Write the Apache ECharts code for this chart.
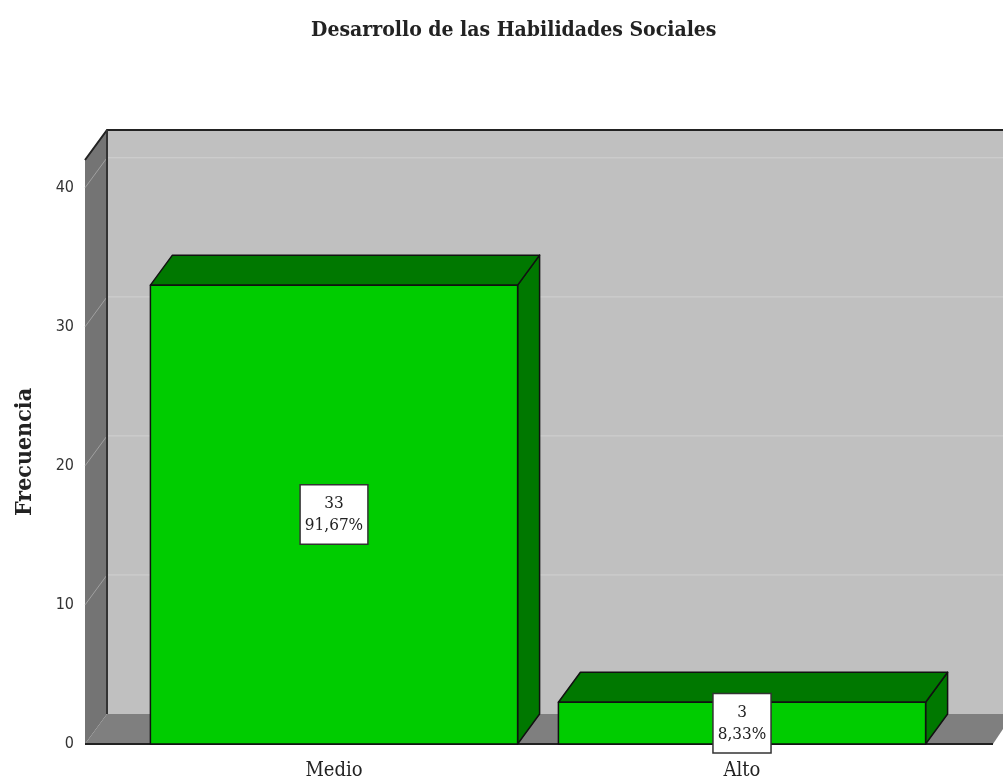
<!DOCTYPE html>
<html>
<head>
<meta charset="utf-8">
<script src="https://cdn.jsdelivr.net/npm/echarts@6/dist/echarts.min.js"></script>
<style>
  html, body { margin: 0; padding: 0; background: #fff; }
  #chart { width: 1003px; height: 784px; }
</style>
</head>
<body>
<div id="chart"></div>
<script>
// valores
const categories = ['Medio', 'Alto'];
const counts = [33, 3];
const percents = ['91,67%', '8,33%'];
const yTicks = [0, 10, 20, 30, 40];

// profundidad del efecto 3D
const DX = 22;
const DY = -30;

let myChart = echarts.init(document.getElementById('chart'));

function renderBackdrop(params, api) {
  const cs = params.coordSys;
  const W = api.getWidth();
  const y0 = api.coord([0, 0])[1];
  const yTop = cs.y;
  const lf = cs.x - 45;      // borde frontal izquierdo
  const lb = lf + DX;        // borde posterior izquierdo
  const children = [];
  // pared del fondo
  children.push({
    type: 'rect',
    shape: { x: lb, y: yTop + DY, width: W - lb, height: y0 - yTop },
    style: { fill: '#c0c0c0' }
  });
  // pared izquierda
  children.push({
    type: 'polygon',
    shape: { points: [[lf, yTop], [lb, yTop + DY], [lb, y0 + DY], [lf, y0]] },
    style: { fill: '#747474' }
  });
  // suelo
  children.push({
    type: 'polygon',
    shape: { points: [[lf, y0], [lb, y0 + DY], [W + 10, y0 + DY], [W - 10, y0]] },
    style: { fill: '#7f7f7f' }
  });
  // lineas de cuadricula
  yTicks.forEach(t => {
    if (t === 0) return;
    const py = api.coord([0, t])[1];
    children.push({
      type: 'line',
      shape: { x1: lb, y1: py + DY, x2: W, y2: py + DY },
      style: { stroke: '#d0d0d0', lineWidth: 1 }
    });
    children.push({
      type: 'line',
      shape: { x1: lf, y1: py, x2: lb, y2: py + DY },
      style: { stroke: '#a0a0a0', lineWidth: 1 }
    });
  });
  // bordes oscuros
  children.push({
    type: 'polyline',
    shape: { points: [[lf, yTop], [lb, yTop + DY], [W, yTop + DY]] },
    style: { stroke: '#222', lineWidth: 2, fill: null }
  });
  children.push({
    type: 'line',
    shape: { x1: lb, y1: yTop + DY, x2: lb, y2: y0 + DY },
    style: { stroke: '#333', lineWidth: 2 }
  });
  children.push({
    type: 'line',
    shape: { x1: lf, y1: y0, x2: W - 10, y2: y0 },
    style: { stroke: '#222', lineWidth: 2 }
  });
  return { type: 'group', children: children };
}

function renderBar(params, api) {
  const idx = api.value(0);
  const v = api.value(1);
  const base = api.coord([idx, 0]);
  const top = api.coord([idx, v]);
  const half = api.size([1, 0])[0] * 0.9 / 2;
  const l = base[0] - half, r = base[0] + half;
  const y0 = base[1], y1 = top[1];
  const edge = { stroke: '#111', lineWidth: 1.5, lineJoin: 'round' };
  return {
    type: 'group',
    children: [
      {
        type: 'polygon',
        shape: { points: [[r, y1], [r + DX, y1 + DY], [r + DX, y0 + DY], [r, y0]] },
        style: Object.assign({ fill: '#007800' }, edge)
      },
      {
        type: 'polygon',
        shape: { points: [[l, y1], [l + DX, y1 + DY], [r + DX, y1 + DY], [r, y1]] },
        style: Object.assign({ fill: '#007800' }, edge)
      },
      {
        type: 'rect',
        shape: { x: l, y: y1, width: r - l, height: y0 - y1 },
        style: Object.assign({ fill: '#00cc00' }, edge)
      },
      {
        type: 'text',
        x: base[0],
        y: (y0 + y1) / 2,
        style: {
          text: counts[params.dataIndex] + '\n' + percents[params.dataIndex],
          align: 'center',
          verticalAlign: 'middle',
          fontFamily: 'DejaVu Serif Condensed',
          fontSize: 17,
          lineHeight: 22,
          fill: '#222',
          backgroundColor: '#fff',
          borderColor: '#333',
          borderWidth: 1.5,
          padding: [7, 4, 7, 4]
        }
      }
    ]
  };
}

let option = {
  animation: false,
  title: {
    text: 'Desarrollo de las Habilidades Sociales',
    left: 306,
    top: 15,
    textStyle: {
      fontFamily: 'DejaVu Serif Condensed',
      fontWeight: 'bold',
      fontSize: 21,
      color: '#222'
    }
  },
  grid: {
    left: 130,
    width: 816,
    top: 160,
    bottom: 40,
    containLabel: false,
    outerBoundsMode: 'none'
  },
  xAxis: {
    type: 'category',
    data: categories,
    axisLine: { show: false },
    axisTick: { show: false },
    axisLabel: {
      margin: 17,
      fontFamily: 'DejaVu Serif Condensed',
      fontSize: 20,
      color: '#222'
    }
  },
  yAxis: {
    type: 'value',
    min: 0,
    max: 42,
    interval: 10,
    name: 'Frecuencia',
    nameLocation: 'middle',
    nameGap: 93,
    nameTextStyle: {
      fontFamily: 'DejaVu Serif Condensed',
      fontWeight: 'bold',
      fontSize: 23,
      color: '#222'
    },
    axisLine: { show: false },
    axisTick: { show: false },
    splitLine: { show: false },
    axisLabel: {
      margin: 56,
      fontFamily: 'DejaVu Sans Condensed',
      fontSize: 16,
      color: '#333',
      formatter: v => (v % 10 === 0 ? String(v) : '')
    }
  },
  series: [
    {
      type: 'custom',
      silent: true,
      z: 1,
      renderItem: renderBackdrop,
      data: [[0, 0]]
    },
    {
      type: 'custom',
      z: 2,
      renderItem: renderBar,
      data: counts.map((c, i) => [i, c])
    }
  ]
};

myChart.setOption(option, true);
window.addEventListener('resize', () => {
  myChart.resize();
});
</script>
</body>
</html>
